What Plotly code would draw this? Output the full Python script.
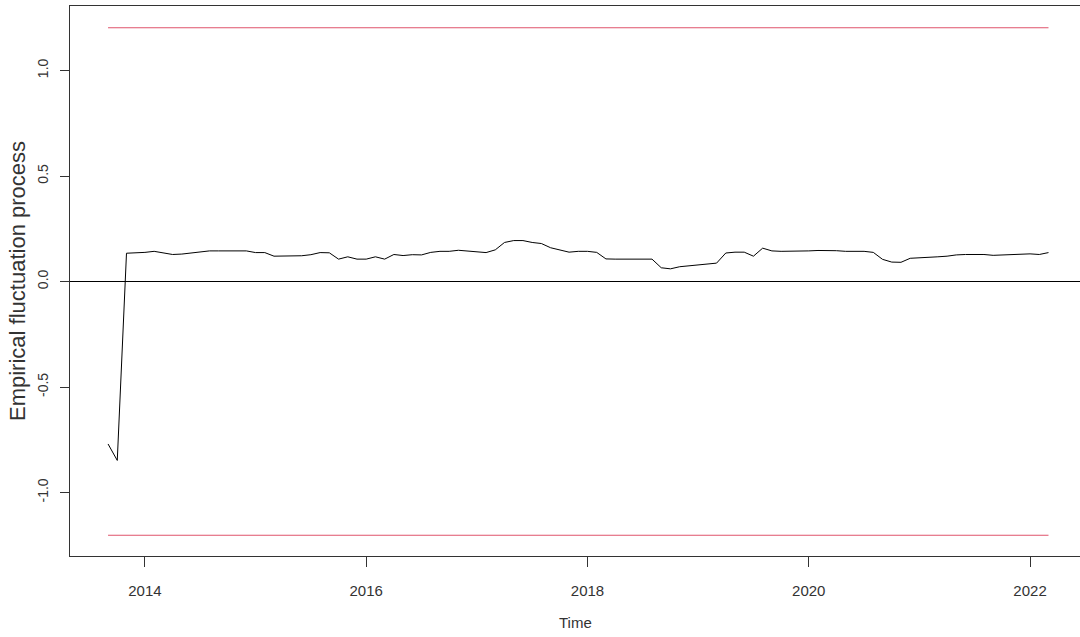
import plotly.graph_objects as go

# ---- data (monthly, Sep 2013 .. Mar 2022) ----
start_year = 2013 + 8/12.0   # September 2013
process = [
    -0.770, -0.848, 0.134, 0.135, 0.138, 0.143, 0.135, 0.128, 0.130, 0.135,
    0.142, 0.145, 0.145, 0.145, 0.148, 0.145, 0.137, 0.137, 0.120, 0.120,
    0.120, 0.122, 0.127, 0.137, 0.136, 0.106, 0.117, 0.106, 0.106, 0.117,
    0.106, 0.128, 0.123, 0.127, 0.126, 0.138, 0.143, 0.143, 0.148, 0.145,
    0.140, 0.137, 0.150, 0.185, 0.194, 0.194, 0.185, 0.180, 0.160, 0.150,
    0.139, 0.143, 0.143, 0.138, 0.107, 0.106, 0.106, 0.106, 0.106, 0.106,
    0.065, 0.060, 0.070, 0.075, 0.078, 0.083, 0.087, 0.135, 0.139, 0.139,
    0.120, 0.158, 0.145, 0.143, 0.143, 0.143, 0.145, 0.147, 0.147, 0.146,
    0.143, 0.143, 0.143, 0.138, 0.105, 0.092, 0.091, 0.110, 0.112, 0.112,
    0.117, 0.120, 0.126, 0.128, 0.128, 0.128, 0.124, 0.125, 0.127, 0.130,
    0.131, 0.128, 0.137,
]
boundary = 1.2026
x_ticks = [2014, 2016, 2018, 2020, 2022]
y_ticks = [-1.0, -0.5, 0.0, 0.5, 1.0]
y_tick_text = ["-1.0", "-0.5", "0.0", "0.5", "1.0"]

times = [start_year + i/12.0 for i in range(len(process))]

fig = go.Figure()
fig.add_trace(go.Scatter(x=times, y=[boundary]*len(times), mode="lines",
                         line=dict(color="#DF536B", width=1.2), hoverinfo="skip"))
fig.add_trace(go.Scatter(x=times, y=[-boundary]*len(times), mode="lines",
                         line=dict(color="#DF536B", width=1.2), hoverinfo="skip"))
fig.add_trace(go.Scatter(x=times, y=process, mode="lines",
                         line=dict(color="black", width=1)))

fig.add_shape(type="line", xref="paper", yref="y", x0=0, x1=1, y0=0, y1=0,
              line=dict(color="black", width=1))

fig.update_layout(
    width=1080, height=637,
    margin=dict(l=70, r=0, t=6, b=81),
    plot_bgcolor="white", paper_bgcolor="white",
    showlegend=False,
    xaxis=dict(range=[2013.3228, 2022.4515], tickvals=x_ticks,
               ticktext=[str(v) for v in x_ticks],
               showgrid=False, zeroline=False, showline=True, mirror=True,
               linecolor="#333", linewidth=1, ticks="outside", ticklen=10,
               tickcolor="#333",
               tickfont=dict(family="Liberation Sans Narrow, Liberation Sans, Arial", size=15, color="#333"),
               ticklabelstandoff=11),
    yaxis=dict(range=[-1.30093, 1.30567], tickvals=y_ticks, ticktext=y_tick_text,
               showgrid=False, zeroline=False, showline=True, mirror=False,
               linecolor="#333", linewidth=1, ticks="outside", ticklen=9,
               tickcolor="#333", tickangle=-90,
               tickfont=dict(family="Liberation Sans, Arial", size=14, color="#333"),
               ticklabelstandoff=6),
    annotations=[
        dict(text="Time", xref="paper", yref="paper", x=0.5, y=0,
             showarrow=False, yshift=-66, yanchor="middle", xanchor="center",
             font=dict(family="Liberation Sans Narrow, Liberation Sans, Arial", size=15, color="#333")),
        dict(text="Empirical fluctuation process", xref="paper", yref="paper",
             x=0, y=0.5, xshift=-53, showarrow=False, textangle=-90,
             xanchor="center", yanchor="middle",
             font=dict(family="Liberation Sans, Arial", size=22, color="#333")),
    ],
)

fig.write_html("out.html", config={"displayModeBar": False},
               post_script="document.body.style.margin='0';document.body.style.padding='0';")
